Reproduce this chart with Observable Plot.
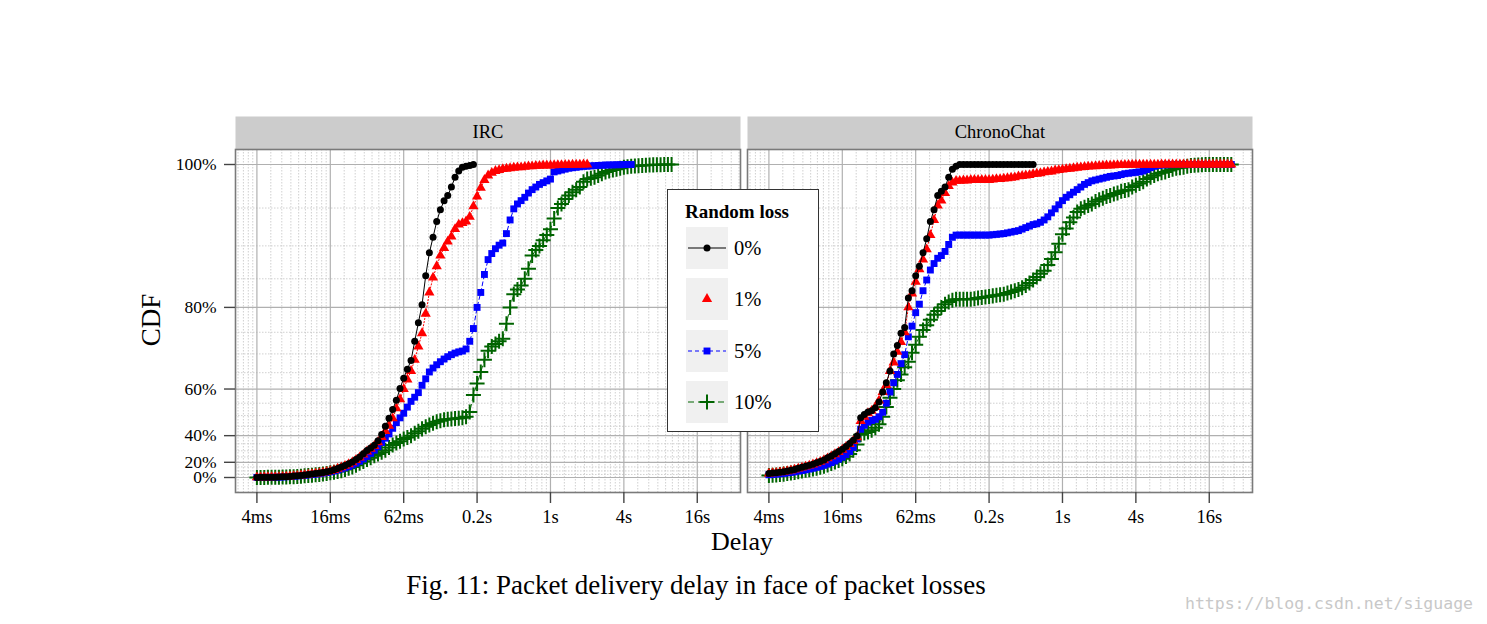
<!DOCTYPE html>
<html><head><meta charset="utf-8">
<script src="https://cdn.jsdelivr.net/npm/d3@7"></script>
<script src="https://cdn.jsdelivr.net/npm/@observablehq/plot@0.6"></script>
<style>
body{margin:0;background:#fff;}
#wrap{position:relative;width:1487px;height:624px;font-family:"Liberation Serif","Times New Roman",serif;color:#000;overflow:hidden;}
#chart{position:absolute;left:0;top:0;}
.abs{position:absolute;white-space:nowrap;line-height:1;}
#legend{position:absolute;left:667px;top:189px;width:150px;height:241px;border:1.2px solid #333;background:#fff;}
#legend .title{position:absolute;left:17px;top:11px;font-weight:bold;font-size:19px;}
#legend .key{position:absolute;left:18px;width:42px;height:42px;background:#f0f0f0;}
#legend .lab{position:absolute;left:66px;font-size:20.5px;line-height:42px;}
</style></head><body>
<div id="wrap">
<div id="chart"></div>
<div class="abs" style="left:151px;top:320px;font-size:27px;transform:translate(-50%,-50%) rotate(-90deg);">CDF</div>
<div class="abs" style="left:742px;top:542px;font-size:26px;transform:translate(-50%,-50%);">Delay</div>
<div class="abs" style="left:696px;top:585px;font-size:27px;transform:translate(-50%,-50%);">Fig. 11: Packet delivery delay in face of packet losses</div>
<div class="abs" style="left:1329px;top:604px;font-size:16.5px;color:#c8c8c8;font-family:'DejaVu Sans Mono',monospace;transform:translate(-50%,-50%);">https://blog.csdn.net/siguage</div>
<div id="legend"></div>
</div>
<script>
// ---- data ----
const panels = ["IRC", "ChronoChat"];
const seriesNames = ["0%", "1%", "5%", "10%"];
// delay sampling grid (ms)
const delayMs = [3.906,4.187,4.487,4.809,5.154,5.524,5.921,6.346,6.801,7.289,
 7.813,8.373,8.974,9.618,10.31,11.05,11.84,12.69,13.60,14.58,
 15.63,16.75,17.95,19.24,20.62,22.10,23.68,25.38,27.20,29.16,
 31.25,33.49,35.89,38.47,41.23,44.19,47.36,50.76,54.41,58.31,
 62.5,66.99,71.79,76.94,82.47,88.39,94.73,101.5,108.8,116.6,
 125,134.0,143.6,153.9,164.9,176.8,189.5,203.0,217.6,233.3,
 250,268.0,287.2,307.8,329.9,353.6,378.9,406.1,435.3,466.5,
 500,535.9,574.3,615.6,659.8,707.1,757.9,812.2,870.5,933.0,
 1000,1072,1149,1231,1320,1414,1516,1625,1741,1866,
 2000,2144,2297,2462,2639,2828,3031,3249,3482,3732,
 4000,4287,4595,4925,5278,5657,6063,6498,6964,7464,
 8000,8574,9190,9849,10556,11314,12126,12996,13929,14929,
 16000,17148,18379,19698,21112,22627,24251];

// CDF values (%) per series, one per delay grid point
const ircLoss0 = [0.2,0.3,0.4,0.4,0.5,0.6,0.8,1.1,1.4,1.9,
 2.4,2.9,3.5,4.2,4.9,5.6,6.3,7.0,7.8,8.8,
 10.0,11.5,13.2,15.0,16.6,18.4,20.4,22.8,25.0,27.7,
 30.2,32.0,34.0,37.0,40.6,45.0,48.8,52.6,56.1,60.2,
 63.4,66.0,68.3,73.0,77.0,80.5,85.5,89.0,91.2,93.3,
 94.8,95.9,96.5,97.5,98.6,99.3,99.7,99.8,99.9,100];
const ircLoss1 = [0.2,0.3,0.4,0.4,0.5,0.6,0.8,1.1,1.4,1.8,
 2.3,2.8,3.4,4.1,4.8,5.5,6.2,6.9,7.7,8.6,
 9.8,11.2,12.8,14.5,16.2,18.0,20.0,22.2,24.5,27.0,
 29.5,31.5,33.5,36.0,39.2,42.5,45.3,48.8,53.0,56.5,
 60.0,63.0,65.5,68.5,71.8,74.8,78.8,82.7,85.2,87.0,
 88.6,89.7,90.6,91.3,92.3,92.9,93.1,93.3,93.9,95.2,
 96.4,97.4,98.3,98.8,99.1,99.3,99.4,99.5,99.55,99.6,
 99.65,99.7,99.7,99.75,99.8,99.8,99.85,99.85,99.9,99.9,
 99.9,99.92,99.93,99.94,99.95,99.96,99.97,99.98,99.99,100,
 100];
const ircLoss5 = [0.2,0.3,0.3,0.4,0.5,0.6,0.7,1.0,1.3,1.7,
 2.1,2.6,3.1,3.7,4.3,4.9,5.5,6.2,7.0,7.8,
 8.8,9.9,11.2,12.6,14.0,15.5,17.2,19.0,21.0,23.2,
 25.5,28.0,30.5,33.0,35.8,38.5,41.0,44.0,46.8,49.0,
 51.0,53.5,55.7,57.2,58.8,61.2,63.2,65.2,66.3,67.2,
 68.0,68.7,69.3,69.8,70.2,70.5,70.7,71.2,73.0,75.8,
 80.0,82.7,85.7,88.0,88.9,89.6,90.1,90.4,91.7,93.5,
 94.9,95.5,95.9,96.3,96.8,97.2,97.5,97.8,98.0,98.2,
 98.4,99.2,99.3,99.4,99.5,99.6,99.65,99.7,99.75,99.8,
 99.82,99.85,99.87,99.9,99.92,99.94,99.95,99.96,99.97,99.98,
 99.99,100,100];
const ircLoss10 = [0.1,0.2,0.2,0.3,0.3,0.4,0.5,0.7,0.9,1.2,
 1.5,1.9,2.3,2.8,3.3,3.9,4.5,5.1,5.8,6.6,
 7.4,8.2,9.1,10.2,11.8,13.3,15.0,17.0,19.0,20.8,
 22.6,24.4,26.0,27.5,28.9,30.5,32.5,34.2,35.5,36.7,
 38.0,38.9,40.0,41.3,42.5,43.7,44.8,45.7,46.5,47.2,
 47.7,48.1,48.4,48.5,48.7,48.8,49.1,49.5,51.5,58.0,
 61.8,65.2,68.5,70.8,71.8,72.4,73.0,73.6,76.8,80.0,
 82.4,83.2,83.9,85.0,86.6,88.6,89.4,90.0,90.8,91.5,
 92.3,93.7,95.0,95.5,96.1,96.5,96.9,97.2,97.5,98.1,
 98.4,98.5,98.6,98.8,99.0,99.2,99.3,99.4,99.5,99.6,
 99.7,99.75,99.8,99.84,99.87,99.9,99.92,99.94,99.96,99.97,
 99.98,99.99,100,100];
const chronoLoss0 = [6.4,7.0,7.6,8.3,9.0,9.8,11.0,12.0,13.4,14.6,
 15.8,16.8,18.0,19.5,20.8,22.3,24.2,25.9,27.8,29.5,
 31.2,33.2,35.2,37.2,39.8,49.0,50.5,51.5,52.0,53.3,
 55.5,59.0,62.0,65.5,70.0,72.0,74.8,76.0,81.7,83.0,
 85.5,87.0,89.0,91.0,93.3,94.8,96.5,97.0,97.5,98.6,
 99.5,99.8,100,100,100,100,100,100,100,100,
 100,100,100,100,100,100,100,100,100,100,
 100,100,100];
const chronoLoss1 = [6.2,6.8,7.4,8.1,8.8,9.6,10.6,11.7,13.0,14.2,
 15.4,16.5,17.7,19.0,20.4,22.0,23.8,25.5,27.3,29.0,
 30.8,32.8,34.8,36.8,39.0,47.5,49.5,51.0,52.0,53.5,
 56.0,59.0,61.3,65.5,67.8,70.5,72.8,75.0,80.0,82.5,
 84.5,86.5,88.0,89.5,91.5,93.5,95.3,95.9,96.8,97.6,
 98.0,98.2,98.2,98.25,98.25,98.3,98.3,98.3,98.3,98.3,
 98.3,98.35,98.4,98.4,98.45,98.5,98.55,98.6,98.7,98.75,
 98.8,98.85,98.95,99.0,99.05,99.15,99.2,99.25,99.35,99.4,
 99.45,99.5,99.55,99.6,99.65,99.7,99.73,99.77,99.8,99.82,
 99.85,99.87,99.89,99.9,99.92,99.93,99.94,99.95,99.96,99.97,
 99.97,99.98,99.98,99.98,99.98,99.98,99.98,100,100,100,
 100,100,100,100,100,100,100,100,100,100,
 100,100,100,100,100,100,100];
const chronoLoss5 = [4.5,5.0,5.5,6.0,6.6,7.3,8.0,8.8,9.7,10.6,
 11.5,12.4,13.4,14.5,15.6,16.8,18.2,19.7,21.3,23.0,
 24.8,27.0,29.5,32.5,38.0,43.5,45.5,47.0,47.8,48.3,
 49.5,51.4,55.0,59.0,62.0,64.5,67.5,69.8,74.0,76.3,
 79.0,80.6,83.0,84.8,86.4,87.4,88.2,88.6,89.2,90.2,
 91.2,91.5,91.5,91.5,91.5,91.5,91.5,91.5,91.5,91.5,
 91.5,91.55,91.6,91.65,91.7,91.8,91.9,92.0,92.1,92.3,
 92.5,92.7,92.9,93.0,93.2,93.5,93.9,94.4,94.9,95.4,
 95.9,96.3,96.6,96.9,97.2,97.5,97.8,98.0,98.2,98.3,
 98.4,98.5,98.6,98.7,98.75,98.8,98.9,99.0,99.05,99.1,
 99.15,99.2,99.3,99.45,99.65,99.8,99.9,99.95,99.97,99.98,
 99.99,100,100,100,100,100,100,100,100,100,
 100,100,100,100,100,100,100];
const chronoLoss10 = [3.2,3.7,4.3,4.9,5.5,6.3,7.2,8.0,9.0,10.0,
 10.8,11.6,12.5,13.5,14.6,15.8,17.2,18.7,20.2,21.8,
 23.5,25.3,27.4,30.5,34.5,40.5,41.5,42.0,43.0,44.3,
 46.0,49.5,53.5,57.0,60.0,62.8,64.5,66.5,68.0,70.3,
 72.2,74.0,75.5,76.5,77.6,78.6,79.3,80.0,80.6,81.0,
 81.3,81.5,81.5,81.5,81.5,81.5,81.6,81.7,81.8,81.9,
 82.0,82.1,82.2,82.3,82.4,82.6,82.8,83.0,83.2,83.5,
 83.9,84.3,84.8,85.3,85.8,86.3,87.2,88.1,89.1,90.3,
 91.6,92.4,93.2,93.8,94.5,94.9,95.1,95.3,95.5,95.8,
 96.0,96.2,96.4,96.5,96.7,96.8,97.0,97.1,97.2,97.5,
 97.7,97.9,98.1,98.4,98.6,98.8,99.0,99.1,99.2,99.35,
 99.5,99.6,99.65,99.7,99.8,99.9,99.92,99.95,99.97,99.99,
 100,100,100,100,100,100,100];

// axis ticks
const xTicks = [3.90625, 15.625, 62.5, 250, 1000, 4000, 16000];
const xTickLabels = ["4ms", "16ms", "62ms", "0.2s", "1s", "4s", "16s"];
const yTicks = [0, 20, 40, 60, 80, 100];
const yMinorTicks = [5,10,15,25,30,35,45,50,55,65,70,75,85,90,95];

// ---- build table ----
const rows = [];
function addSeries(panel, series, values) {
  values.forEach((v, i) => rows.push({panel, series, delay: delayMs[i], cdf: v}));
}
addSeries("IRC", "0%", ircLoss0);
addSeries("IRC", "1%", ircLoss1);
addSeries("IRC", "5%", ircLoss5);
addSeries("IRC", "10%", ircLoss10);
addSeries("ChronoChat", "0%", chronoLoss0);
addSeries("ChronoChat", "1%", chronoLoss1);
addSeries("ChronoChat", "5%", chronoLoss5);
addSeries("ChronoChat", "10%", chronoLoss10);

const xDomain = [2.607, 36210];
// minor x grid: 9 linear subdivisions between consecutive major ticks
const allMajor = [0.9765625].concat(xTicks, [64000]);
const xMinor = [];
for (let i = 0; i < allMajor.length - 1; i++) {
  const a = allMajor[i], b = allMajor[i + 1];
  for (let j = 1; j < 10; j++) {
    const v = a + (b - a) * j / 10;
    if (v > xDomain[0] && v < xDomain[1]) xMinor.push(v);
  }
}

const styles = {
  "0%":  {color: "#000000", dash: null,    symbol: "circle",   r: 3.5, fill: true},
  "1%":  {color: "#ff0000", dash: "1.2,2", symbol: "triangle", r: 3.8, fill: true},
  "5%":  {color: "#0000ff", dash: "4,3",   symbol: "square",   r: 3.9, fill: true},
  "10%": {color: "#006400", dash: "6,4",   symbol: "plus",     r: 4.9, fill: false}
};

const xLabelOf = new Map(xTicks.map((t, i) => [t, xTickLabels[i]]));
const YK = 2.8;

const seriesMarks = [];
for (const s of ["10%", "5%", "1%", "0%"]) {
  const st = styles[s];
  const data = rows.filter(d => d.series === s);
  seriesMarks.push(Plot.line(data, {x: "delay", y: "cdf", fx: "panel", stroke: st.color,
    strokeWidth: 1, strokeDasharray: st.dash}));
  if (st.fill) {
    seriesMarks.push(Plot.dot(data, {x: "delay", y: "cdf", fx: "panel", symbol: st.symbol,
      r: st.r, fill: st.color, stroke: "none"}));
  } else {
    seriesMarks.push(Plot.dot(data, {x: "delay", y: "cdf", fx: "panel", symbol: st.symbol,
      r: st.r, fill: "none", stroke: st.color, strokeWidth: 2}));
  }
}

const chart = Plot.plot({
  width: 1487,
  height: 560,
  marginTop: 149,
  marginBottom: 68,
  marginLeft: 234,
  marginRight: 235,
  style: {fontFamily: "'Liberation Serif', 'Times New Roman', serif", background: "transparent"},
  fx: {domain: panels, paddingInner: 0.0137, paddingOuter: 0, axis: null},
  x: {type: "log", base: 2, domain: xDomain},
  y: {transform: v => Math.exp(YK * v / 100), insetTop: 15, insetBottom: 15},
  marks: [
    Plot.frame({fill: "#cccccc", stroke: "none", insetTop: -33, insetBottom: 343}),
    Plot.text(panels, {fx: d => d, text: d => d, frameAnchor: "top", dy: -17, fontSize: 18.5, lineAnchor: "middle", fill: "#000"}),
    Plot.gridX(xMinor, {stroke: "#c4c4c4", strokeOpacity: 1, strokeWidth: 0.8, strokeDasharray: "1.5,1.5"}),
    Plot.gridY(yMinorTicks, {stroke: "#c4c4c4", strokeOpacity: 1, strokeWidth: 0.8, strokeDasharray: "1.5,1.5"}),
    Plot.gridX(xTicks, {stroke: "#b0b0b0", strokeOpacity: 1, strokeWidth: 1.2}),
    Plot.gridY(yTicks, {stroke: "#b0b0b0", strokeOpacity: 1, strokeWidth: 1.2}),
    ...seriesMarks,
    Plot.frame({stroke: "#7a7a7a", strokeWidth: 1.6}),
    Plot.axisY(yTicks, {tickFormat: d => d + "%", tickSize: 11, tickPadding: 8, fontSize: 17.5,
      label: null, stroke: "#444", strokeWidth: 1.4}),
    Plot.axisX(xTicks, {tickFormat: d => xLabelOf.get(d), tickSize: 11, tickPadding: 6, fontSize: 18.5,
      label: null, stroke: "#444", strokeWidth: 1.4})
  ]
});
document.getElementById("chart").appendChild(chart);

// ---- legend ----
const legend = document.getElementById("legend");
legend.innerHTML = '<div class="title">Random loss</div>';
const keyTops = [37, 88, 140, 191];
seriesNames.forEach((s, i) => {
  const st = styles[s];
  const sym = d3.symbol(
    {circle: d3.symbolCircle, triangle: d3.symbolTriangle, square: d3.symbolSquare, plus: d3.symbolPlus}[st.symbol],
    Math.PI * st.r * st.r)();
  const line = s === "1%" ? "" :
    `<line x1="2" x2="40" y1="21" y2="21" stroke="${st.color}" stroke-width="1.1" ${st.dash ? `stroke-dasharray="${st.dash}"` : ""}/>`;
  const symAttr = st.fill ? `fill="${st.color}"` : `fill="none" stroke="${st.color}" stroke-width="2"`;
  const key = document.createElement("div");
  key.className = "key";
  key.style.top = keyTops[i] + "px";
  key.innerHTML = `<svg width="42" height="42">${line}<path transform="translate(21,21)" d="${sym}" ${symAttr}/></svg>`;
  legend.appendChild(key);
  const lab = document.createElement("div");
  lab.className = "lab";
  lab.style.top = keyTops[i] + "px";
  lab.textContent = s;
  legend.appendChild(lab);
});
</script>
</body></html>
